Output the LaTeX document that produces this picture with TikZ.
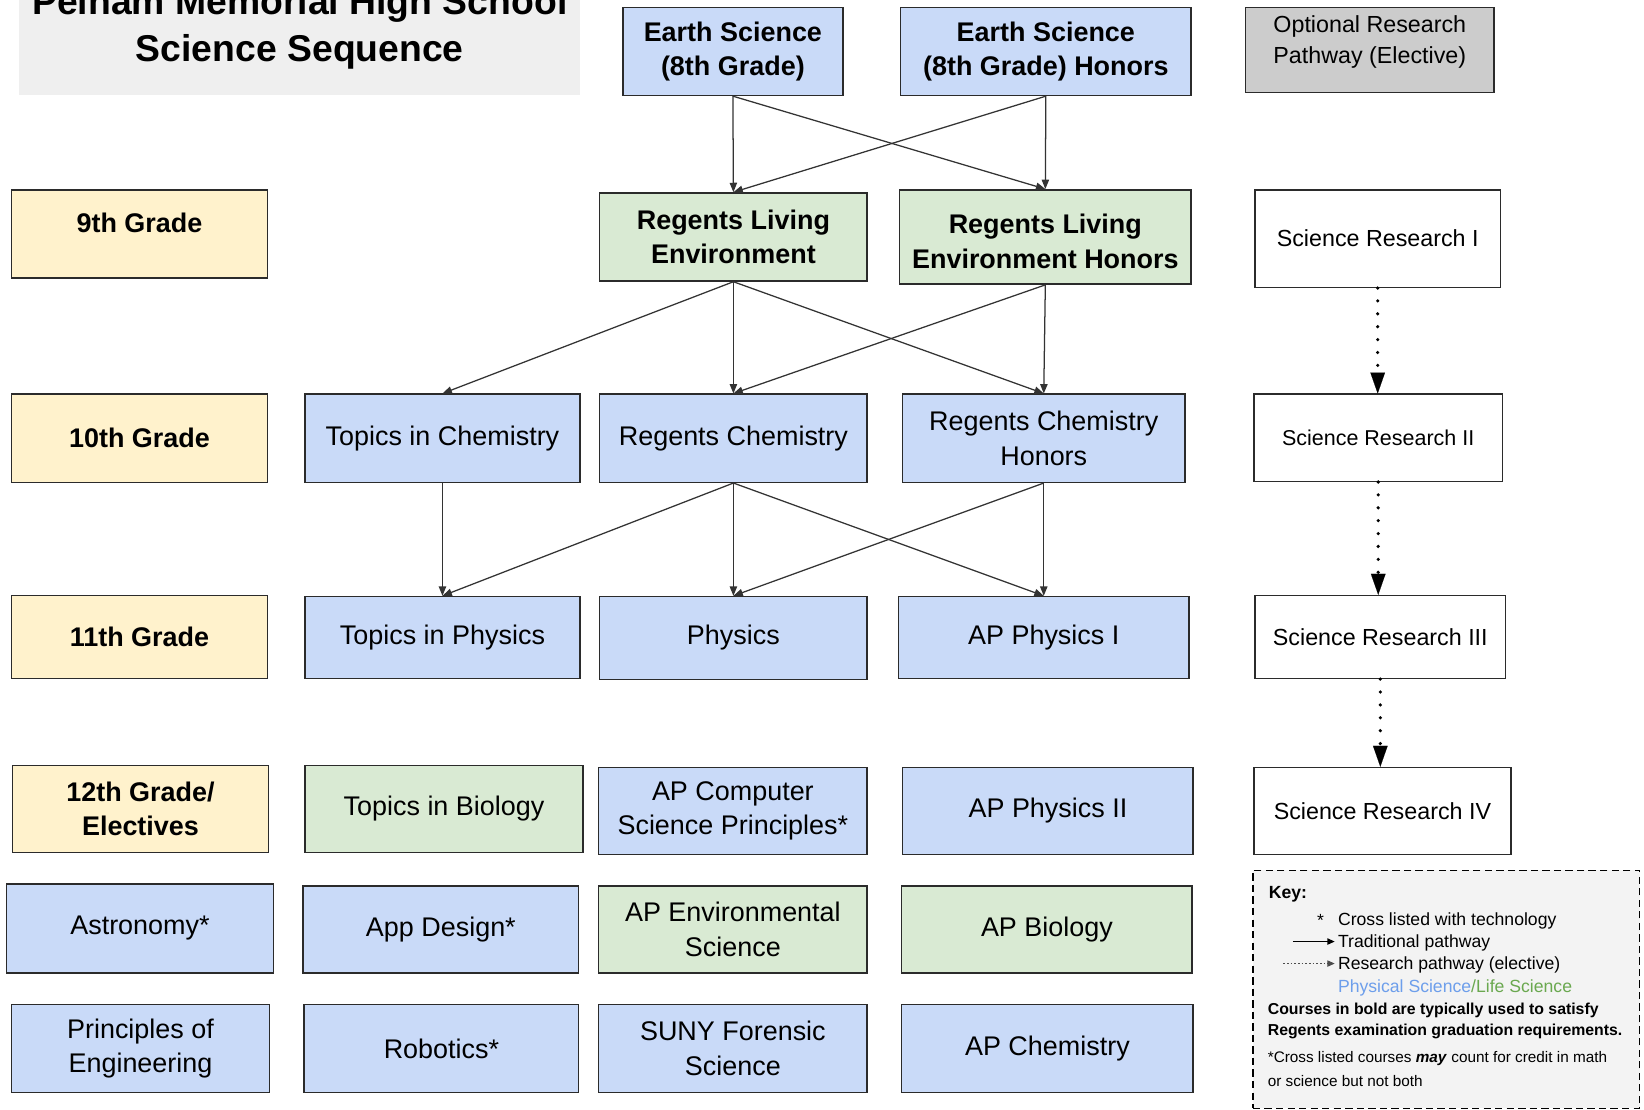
\documentclass[tikz,border=0pt]{standalone}
\usepackage{fontspec}
\setmainfont{Liberation Sans}
\usetikzlibrary{arrows.meta}
\definecolor{pblue}{HTML}{C9DAF8}
\definecolor{pgreen}{HTML}{D9EAD3}
\definecolor{pyellow}{HTML}{FFF2CC}
\definecolor{pgray}{HTML}{CCCCCC}
\definecolor{ptitle}{HTML}{EFEFEF}
\definecolor{pkey}{HTML}{F3F3F3}
\definecolor{bordc}{HTML}{2B2B2B}
\definecolor{linec}{HTML}{333333}
\definecolor{physc}{HTML}{6D9EEB}
\definecolor{lifec}{HTML}{6AA84F}
\begin{document}
\begin{tikzpicture}[x=1pt,y=-1pt,
  bx/.style 2 args={draw=bordc,line width=1.4pt,minimum width=#1,minimum height=#2,
    inner sep=0pt,align=center,font=\fontsize{25.7}{33}\selectfont},
  bluebox/.style={fill=pblue},
  greenbox/.style={fill=pgreen},
  gradebox/.style={fill=pyellow,font=\fontsize{25.7}{33}\selectfont\bfseries},
  resbox/.style={fill=white,font=\fontsize{22.2}{29}\selectfont},
  bold/.style={font=\fontsize{25.7}{33}\selectfont\bfseries},
  trad/.style={draw=linec,line width=1.2pt,-{Triangle[length=9pt,width=7pt]}},
  resarrow/.style={draw=black,line width=3.4pt,line cap=round,dash pattern=on 0pt off 12.3pt,
    -{Triangle[length=20pt,width=14pt,line width=0.1pt]}},
  keytext/.style={anchor=base west,inner sep=0pt,font=\fontsize{16.8}{21}\selectfont},
  keybold/.style={anchor=base west,inner sep=0pt,font=\fontsize{15.1}{20}\selectfont\bfseries},
  keysmall/.style={anchor=base west,inner sep=0pt,font=\fontsize{14.6}{18}\selectfont},
  titletext/.style={anchor=base,inner sep=0pt,font=\fontsize{35.6}{45}\selectfont\bfseries}
]
\useasboundingbox (0,0) rectangle (1568,1058);
\fill[white] (0,0) rectangle (1568,1058);

% title
\fill[ptitle] (18,-30) rectangle (553,91);
\node[titletext] (title1) at (286,14.3) {Pelham Memorial High School};
\node[titletext] (title2) at (286,58.8) {Science Sequence};

% top row
\node[bx={210pt}{84pt},bluebox,bold] (es8) at (699,49) {Earth Science\\(8th Grade)};
\node[bx={277pt}{84pt},bluebox,bold] (es8h) at (997.5,49) {Earth Science\\(8th Grade) Honors};
\node[bx={237pt}{81pt},fill=pgray,font=\fontsize{22.2}{29}\selectfont] (opt) at (1306.5,47.5)
  {\raisebox{2.4pt}[0pt][0pt]{\begin{tabular}{@{}c@{}}Optional Research\\Pathway (Elective)\end{tabular}}};

% 9th grade
\node[bx={244pt}{84pt},gradebox] (g9) at (133,223) {\raisebox{1pt}[0pt][0pt]{9th Grade}};
\node[bx={255pt}{84pt},greenbox,bold] (rle) at (699.5,226) {Regents Living\\Environment};
\node[bx={278pt}{90pt},greenbox,bold] (rleh) at (997,226) {\raisebox{-13pt}[0pt][0pt]{\begin{tabular}{@{}c@{}}Regents Living\\Environment Honors\end{tabular}}};
\node[bx={234pt}{93pt},resbox] (sr1) at (1314,227.5) {Science Research I};

% 10th grade
\node[bx={244pt}{84pt},gradebox] (g10) at (133,418) {10th Grade};
\node[bx={262pt}{84pt},bluebox] (tc) at (422,418) {Topics in Chemistry};
\node[bx={255pt}{84pt},bluebox] (rc) at (699.5,418) {Regents Chemistry};
\node[bx={269pt}{84pt},bluebox] (rch) at (995.5,418) {Regents Chemistry\\Honors};
\node[bx={237pt}{83pt},resbox,font=\fontsize{20.5}{27}\selectfont] (sr2) at (1314.5,417.5) {Science Research II};

% 11th grade
\node[bx={244pt}{79pt},gradebox] (g11) at (133,607.5) {11th Grade};
\node[bx={262pt}{78pt},bluebox] (tp) at (422,608) {Topics in Physics};
\node[bx={255pt}{79pt},bluebox] (ph) at (699.5,608.5) {Physics};
\node[bx={277pt}{78pt},bluebox] (ap1) at (995.5,608) {AP Physics I};
\node[bx={239pt}{79pt},resbox] (sr3) at (1316.5,607.5) {Science Research III};

% 12th grade
\node[bx={244pt}{83pt},gradebox] (g12) at (134,771.5) {12th Grade/\\Electives};
\node[bx={265pt}{83pt},greenbox] (tb) at (423.5,771.5) {Topics in Biology};
\node[bx={256pt}{83pt},bluebox] (csp) at (699,773.5) {AP Computer\\Science Principles*};
\node[bx={277pt}{83pt},bluebox] (ap2) at (999.5,773.5) {AP Physics II};
\node[bx={245pt}{83pt},resbox] (sr4) at (1318.5,773.5) {Science Research IV};

% electives row 1
\node[bx={255pt}{85pt},bluebox] (ast) at (133.5,885.5) {Astronomy*};
\node[bx={263pt}{83pt},bluebox] (app) at (420.5,886.5) {App Design*};
\node[bx={256pt}{83pt},greenbox] (env) at (699,886.5) {AP Environmental\\Science};
\node[bx={277pt}{83pt},greenbox] (bio) at (998.5,886.5) {AP Biology};

% electives row 2
\node[bx={246pt}{84pt},bluebox] (eng) at (134,1000) {Principles of\\Engineering};
\node[bx={262pt}{84pt},bluebox] (rob) at (421,1000) {Robotics*};
\node[bx={256pt}{84pt},bluebox] (suny) at (699,1000) {SUNY Forensic\\Science};
\node[bx={278pt}{84pt},bluebox] (apc) at (999,1000) {AP Chemistry};

% traditional pathway arrows
\draw[trad] (es8.south) -- (rle.north);
\draw[trad] (es8.south) -- (rleh.north);
\draw[trad] (es8h.south) -- (rle.north);
\draw[trad] (es8h.south) -- (rleh.north);
\draw[trad] (rle.south) -- (tc.north);
\draw[trad] (rle.south) -- (rc.north);
\draw[trad] (rle.south) -- (rch.north);
\draw[trad] (rleh.south) -- (rc.north);
\draw[trad] (rleh.south) -- (rch.north);
\draw[trad] (tc.south) -- (tp.north);
\draw[trad] (rc.south) -- (tp.north);
\draw[trad] (rc.south) -- (ph.north);
\draw[trad] (rc.south) -- (ap1.north);
\draw[trad] (rch.south) -- (ph.north);
\draw[trad] (rch.south) -- (ap1.north);

% research pathway arrows
\draw[resarrow] (sr1.south) -- (sr1.south |- sr2.north);
\draw[resarrow] (sr2.south) -- (sr2.south |- sr3.north);
\draw[resarrow] (sr3.south) -- (sr3.south |- sr4.north);

% key
\node[draw=black,line width=1.1pt,dash pattern=on 7pt off 4pt,fill=pkey,
  minimum width=369pt,minimum height=227pt,inner sep=0pt] (key) at (1379.5,943.5) {};
\node[keytext,font=\fontsize{16.8}{21}\selectfont\bfseries] (keyt) at (1210,857) {Key:};
\node[keytext] (kstar) at (1256,884) {*};
\node[keytext] (k1) at (1276,883) {Cross listed with technology};
\coordinate (k2a) at (1233,898);
\coordinate (k2b) at (1273,898);
\draw[draw=black,line width=1.2pt,-{Triangle[length=7pt,width=6pt]}] (k2a) -- (k2b);
\node[keytext] (k2) at (1276,904) {Traditional pathway};
\coordinate (k3a) at (1224,919);
\coordinate (k3b) at (1273,919);
\draw[draw=black!70,line width=1pt,dash pattern=on 1.5pt off 2pt,-{Triangle[length=7pt,width=6pt]}] (k3a) -- (k3b);
\node[keytext] (k3) at (1276,925) {Research pathway (elective)};
\node[keytext] (k4) at (1276,947) {\textcolor{physc}{Physical Science}\textcolor{lifec}{/Life Science}};
\node[keybold] (k5) at (1209,967.5) {Courses in bold are typically used to satisfy};
\node[keybold] (k6) at (1209,987.5) {Regents examination graduation requirements.};
\node[keysmall] (k7) at (1209,1013) {*Cross listed courses \textbf{\textit{may}} count for credit in math};
\node[keysmall] (k8) at (1209,1036) {or science but not both};
\end{tikzpicture}
\end{document}
